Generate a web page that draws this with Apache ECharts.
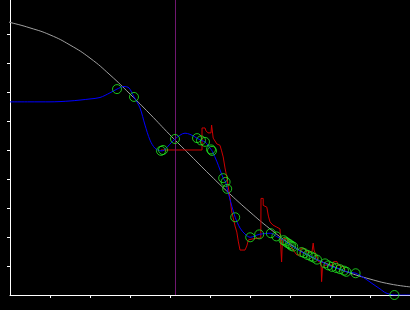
<!DOCTYPE html>
<html>
<head>
<meta charset="utf-8">
<script src="https://cdn.jsdelivr.net/npm/echarts@6/dist/echarts.min.js"></script>
<style>html,body{margin:0;padding:0;background:#000;}#c{width:410px;height:310px;}</style>
</head>
<body>
<div id="c"></div>
<script>
// Reference (grey) curve
const refCurve = [[-2.5,94.8],[0,94.0],[5,92.1],[10,89.7],[15,86.2],[20,81.7],[25,75.9],[30,69.3],[35,62.4],[40,55.2],[45,48.3],[50,41.4],[55,34.8],[60,28.6],[65,22.8],[70,17.6],[75,13.4],[80,10.3],[85,7.6],[90,5.5],[95,3.8],[100,2.8]];
// Vertical marker position
const markerX = 41.25;
// Fitted (blue) curve
const fitCurve = [[0,66.6],[5,66.6],[10,66.6],[15,66.9],[20,67.6],[22.5,68.1],[25,69.7],[26.75,71.0],[28.5,71.9],[29.75,71.4],[31,68.3],[32.5,64.5],[33.75,58.6],[35,53.4],[36.25,50.6],[37.75,49.7],[38.5,49.9],[41.25,53.8],[43.75,55.8],[45,55.4],[46.75,54.1],[47.75,53.3],[48.75,52.8],[50.25,50.2],[50.6,49.5],[51.75,45.9],[53.3,40.3],[53.9,39.0],[54.3,36.6],[55.25,31.7],[56.3,26.8],[57.5,23.1],[58.75,21.0],[60.05,19.9],[62.3,20.9],[65.2,21.3],[66.6,20.2],[68.4,18.9],[68.9,18.4],[69.4,17.9],[69.9,17.5],[70.3,17.0],[70.8,16.7],[72.9,14.8],[73.6,14.4],[74.4,13.8],[75.25,13.3],[75.9,12.9],[76.75,12.2],[78.75,10.9],[79.6,10.2],[80.5,9.7],[81.6,9.3],[82.5,8.9],[83.5,8.4],[84.1,8.0],[86.4,7.5],[88.5,5.9],[90.5,4.0],[92.5,2.1],[94,0.7],[96.1,0],[100,0]];
// Sample points (green circles)
const samples = [[26.75,71.0],[31,68.3],[37.75,49.7],[38.25,50.0],[41.25,53.8],[46.75,54.1],[47.75,53.3],[48.75,52.8],[50.25,50.2],[50.5,49.7],[53.3,40.3],[53.9,39.0],[54.3,36.6],[56.3,26.8],[60.05,19.9],[62.3,20.9],[65.2,21.3],[66.6,20.2],[68.4,18.9],[68.9,18.4],[69.4,17.9],[69.9,17.5],[70.3,17.0],[70.8,16.7],[72.9,14.8],[73.6,14.4],[74.4,13.8],[75.25,13.3],[75.9,12.9],[76.75,12.2],[78.75,10.9],[79.6,10.2],[80.5,9.7],[81.6,9.3],[82.5,8.9],[83.5,8.4],[84.1,8.0],[86.4,7.5],[96.1,0]];
// Raw (red) signal
const rawSignal = [[37.75,50.0],[48,50.0],[48,57.6],[48.75,57.6],[49,56.6],[49.5,55.9],[50.25,55.9],[50.4,58.6],[50.6,58.6],[50.8,54.1],[51.25,53.8],[51.7,52.1],[52.5,51.6],[52.9,49.7],[53.3,47.6],[53.75,43.8],[54.2,40.7],[54.6,36.9],[55,33.4],[55.4,29.0],[55.8,26.6],[56.25,23.8],[56.7,21.7],[57.1,18.3],[57.5,15.5],[58.75,15.5],[59.2,16.9],[59.6,19.0],[60.5,19.3],[62,19.6],[62.7,19.7],[62.75,33.3],[63.3,33.3],[63.3,30.9],[64.2,30.3],[64.6,27.2],[65,25.2],[65.75,24.1],[66.7,23.4],[67.5,22.8],[67.7,16.6],[67.9,11.4],[68.1,19.0],[68.75,19.6],[69.6,19.0],[70,17.2],[70.8,15.5],[71.7,13.8],[72.5,13.8],[72.75,16.2],[73.75,15.9],[74.2,14.9],[75.5,14.9],[75.8,17.9],[76,15.5],[76.7,13.1],[77.1,11.5],[77.75,11.4],[77.9,4.6],[78.1,9.3],[78.75,10.3],[80.75,10.3],[80.9,11.5],[81.75,11.5],[82,10.3],[83.25,9.8],[83.75,8.6]];
const xTicks = [10,20,30,40,50,60,70,80,90];
const yTicks = [10,20,30,40,50,60,70,80,90];
const yMax = 101.72;

const chart = echarts.init(document.getElementById('c'), null, {renderer:'canvas'});
chart.setOption({
  backgroundColor:'#000',
  animation:false,
  grid:{left:10,right:0,top:0,bottom:15},
  xAxis:{type:'value',min:0,max:100,interval:10,
    axisLine:{show:true,lineStyle:{color:'#fff',width:1}},
    axisTick:{show:true,length:3,customValues:xTicks,lineStyle:{color:'#fff'}},
    axisLabel:{show:false},splitLine:{show:false}},
  yAxis:{type:'value',min:0,max:yMax,interval:10,
    axisLine:{show:true,lineStyle:{color:'#fff',width:1}},
    axisTick:{show:true,length:3,customValues:yTicks,lineStyle:{color:'#fff'}},
    axisLabel:{show:false},splitLine:{show:false}},
  series:[
    {type:'line',data:refCurve,smooth:true,symbol:'none',clip:false,
     lineStyle:{color:'#a0a0a0',width:1},z:2,
     markLine:{silent:true,symbol:'none',label:{show:false},
       lineStyle:{color:'#701870',width:1,type:'solid'},
       data:[{xAxis:markerX}]}},
    {type:'line',data:rawSignal,symbol:'none',lineStyle:{color:'#cc0000',width:1},z:3},
    {type:'line',data:fitCurve,smooth:0.3,symbol:'none',lineStyle:{color:'#0000ff',width:1},z:4},
    {type:'scatter',data:samples,symbol:'circle',symbolSize:9,
     itemStyle:{color:'rgba(0,0,0,0)',borderColor:'#22ee22',borderWidth:1},z:5}
  ]
});
</script>
</body>
</html>
